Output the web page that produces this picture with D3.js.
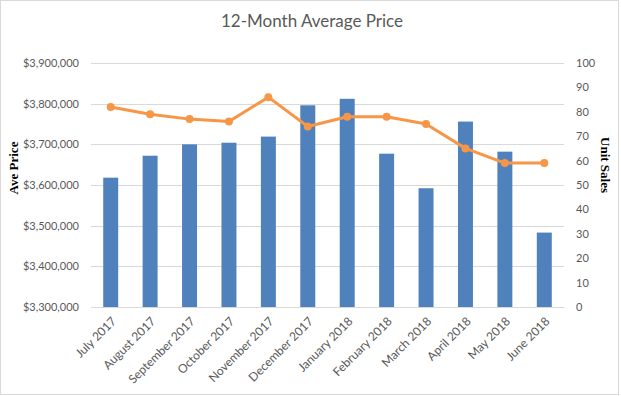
<!DOCTYPE html>
<html>
<head>
<meta charset="utf-8">
<script src="https://cdn.jsdelivr.net/npm/d3@7"></script>
<style>
  body { margin: 0; background: #fff; }
  text { font-family: Lato, "Open Sans", sans-serif; }
</style>
</head>
<body>
<div id="chart"></div>
<script>
const months = ['July 2017', 'August 2017', 'September 2017', 'October 2017', 'November 2017',
  'December 2017', 'January 2018', 'February 2018', 'March 2018', 'April 2018', 'May 2018', 'June 2018'];
const avePrice = [3618000, 3672000, 3700000, 3704000, 3719000, 3796000,
  3812000, 3677000, 3592000, 3756000, 3682000, 3483000];
const unitSales = [82, 79, 77, 76, 86, 74, 78, 78, 75, 65, 59, 59];
const priceTicks = [3300000, 3400000, 3500000, 3600000, 3700000, 3800000, 3900000];
const salesTicks = [0, 10, 20, 30, 40, 50, 60, 70, 80, 90, 100];

const width = 621;
const height = 396;
const padding = { top: 63, right: 57, bottom: 89, left: 91 };

const svg = d3.select('#chart')
  .append('svg')
  .attr('width', width)
  .attr('height', height);

// chart border
svg.append('rect')
  .attr('x', 0.5).attr('y', 0.5)
  .attr('width', width - 3).attr('height', height - 2)
  .attr('fill', '#fff')
  .attr('stroke', '#d9d9d9');

const xScale = d3.scaleBand()
  .domain(months)
  .range([padding.left, width - padding.right])
  .paddingInner(0.62)
  .paddingOuter(0.31);

const yPrice = d3.scaleLinear()
  .domain([3300000, 3900000])
  .range([height - padding.bottom, padding.top]);

const ySales = d3.scaleLinear()
  .domain([0, 100])
  .range([height - padding.bottom, padding.top]);

// gridlines
svg.append('g')
  .selectAll('line')
  .data(priceTicks)
  .join('line')
  .attr('x1', padding.left)
  .attr('x2', width - padding.right)
  .attr('y1', d => Math.round(yPrice(d)) + 0.5)
  .attr('y2', d => Math.round(yPrice(d)) + 0.5)
  .attr('stroke', '#d9d9d9');

// bars
svg.append('g')
  .selectAll('rect')
  .data(avePrice)
  .join('rect')
  .attr('x', (d, i) => xScale(months[i]))
  .attr('width', xScale.bandwidth())
  .attr('y', d => yPrice(d))
  .attr('height', d => yPrice(3300000) - yPrice(d))
  .attr('fill', '#4f81bd');

// unit sales line
const line = d3.line()
  .x((d, i) => xScale(months[i]) + xScale.bandwidth() / 2)
  .y(d => ySales(d));

svg.append('path')
  .datum(unitSales)
  .attr('d', line)
  .attr('fill', 'none')
  .attr('stroke', '#f79646')
  .attr('stroke-width', 3)
  .attr('stroke-linejoin', 'round');

svg.append('g')
  .selectAll('circle')
  .data(unitSales)
  .join('circle')
  .attr('cx', (d, i) => xScale(months[i]) + xScale.bandwidth() / 2)
  .attr('cy', d => ySales(d))
  .attr('r', 4)
  .attr('fill', '#f79646');

// left axis
const leftAxis = svg.append('g')
  .attr('transform', `translate(${padding.left - 9},0)`)
  .call(d3.axisLeft(yPrice).tickValues(priceTicks).tickFormat(d => '$' + d3.format(',')(d)).tickSize(0));
leftAxis.select('.domain').remove();
leftAxis.selectAll('text')
  .attr('font-size', 11)
  .attr('fill', '#595959')
  .style('font-family', 'Lato, sans-serif');

// right axis
const rightAxis = svg.append('g')
  .attr('transform', `translate(${width - padding.right + 9},0)`)
  .call(d3.axisRight(ySales).tickValues(salesTicks).tickSize(0));
rightAxis.select('.domain').remove();
rightAxis.selectAll('text')
  .attr('font-size', 11)
  .attr('fill', '#595959')
  .style('font-family', 'Lato, sans-serif');

// bottom axis
const bottomAxis = svg.append('g')
  .attr('transform', `translate(0,${height - padding.bottom})`)
  .call(d3.axisBottom(xScale).tickSize(0));
bottomAxis.select('.domain')
  .attr('stroke', '#d9d9d9');
bottomAxis.selectAll('text')
  .attr('font-size', 12)
  .attr('fill', '#595959')
  .style('font-family', 'Lato, sans-serif')
  .attr('text-anchor', 'end')
  .attr('dy', 0)
  .attr('transform', 'translate(4,13) rotate(-45)');

// title
svg.append('text')
  .attr('x', 312)
  .attr('y', 27)
  .attr('text-anchor', 'middle')
  .attr('font-size', 17)
  .attr('fill', '#595959')
  .text('12-Month Average Price');

// axis titles
svg.append('text')
  .attr('transform', 'translate(18,168) rotate(-90)')
  .attr('text-anchor', 'middle')
  .attr('font-size', 13)
  .attr('font-weight', 'bold')
  .style('font-family', '"Liberation Serif", serif')
  .attr('fill', '#000')
  .text('Ave Price');

svg.append('text')
  .attr('transform', 'translate(601,165) rotate(90)')
  .attr('text-anchor', 'middle')
  .attr('font-size', 13)
  .attr('font-weight', 'bold')
  .style('font-family', '"Liberation Serif", serif')
  .attr('fill', '#000')
  .text('Unit Sales');
</script>
</body>
</html>
